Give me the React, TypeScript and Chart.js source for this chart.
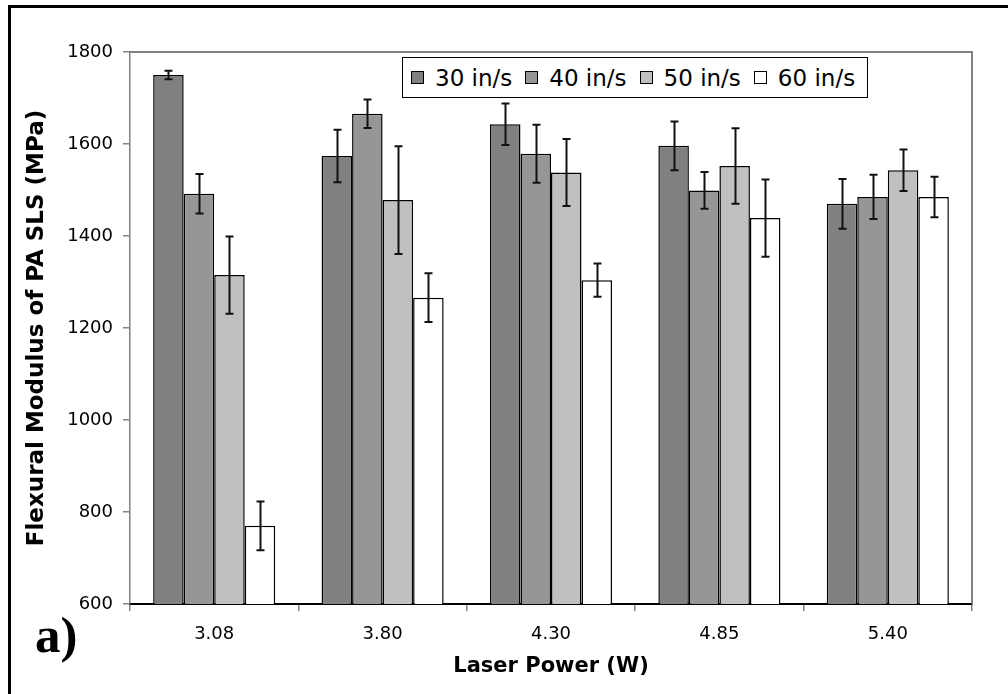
import React, { useEffect, useRef } from "react";
import { Chart, registerables } from "chart.js";

Chart.register(...registerables);

const categories = ["3.08", "3.80", "4.30", "4.85", "5.40"];
const seriesLabels = ["30 in/s", "40 in/s", "50 in/s", "60 in/s"];
const s30 = [1750, 1574, 1643, 1596, 1470];
const s40 = [1492, 1666, 1579, 1499, 1485];
const s50 = [1315, 1478, 1538, 1552, 1543];
const s60 = [770, 1266, 1304, 1439, 1485];
const e30 = [9, 57, 45, 53, 54];
const e40 = [43, 31, 63, 40, 48];
const e50 = [84, 117, 73, 82, 45];
const e60 = [53, 53, 36, 84, 44];
const yTicks = [600, 800, 1000, 1200, 1400, 1600, 1800];
const fills = ["#808080", "#969696", "#c0c0c0", "#ffffff"];

const values = [s30, s40, s50, s60];
const errors = [e30, e40, e50, e60];

const FONT = "'DejaVu Sans', 'Liberation Sans', Arial, sans-serif";

const errorBarPlugin = {
  id: "errorBars",
  afterDatasetsDraw(chart: any) {
    const ctx = chart.ctx;
    const yScale = chart.scales.y;
    ctx.save();
    ctx.strokeStyle = "#111";
    ctx.lineWidth = 2;
    chart.data.datasets.forEach((ds: any, di: number) => {
      const meta = chart.getDatasetMeta(di);
      meta.data.forEach((el: any, i: number) => {
        const v = ds.data[i];
        const e = errors[di][i];
        const x = Math.round(el.x) + 0.5;
        const yTop = yScale.getPixelForValue(v + e);
        const yBot = yScale.getPixelForValue(v - e);
        ctx.beginPath();
        ctx.moveTo(x, yTop);
        ctx.lineTo(x, yBot);
        ctx.moveTo(x - 4, yTop);
        ctx.lineTo(x + 4, yTop);
        ctx.moveTo(x - 4, yBot);
        ctx.lineTo(x + 4, yBot);
        ctx.stroke();
      });
    });
    ctx.restore();
  },
};

const plotBorderPlugin = {
  id: "plotBorder",
  afterDraw(chart: any) {
    const { ctx, chartArea } = chart;
    ctx.save();
    ctx.strokeStyle = "#808080";
    ctx.lineWidth = 2;
    ctx.beginPath();
    ctx.moveTo(chartArea.left, chartArea.top);
    ctx.lineTo(chartArea.right, chartArea.top);
    ctx.lineTo(chartArea.right, chartArea.bottom);
    ctx.stroke();
    ctx.restore();
  },
};

export default function App() {
  const ref = useRef<HTMLCanvasElement | null>(null);

  useEffect(() => {
    document.body.style.margin = "0";
    if (!ref.current) return;
    const chart = new Chart(ref.current, {
      type: "bar",
      data: {
        labels: categories,
        datasets: values.map((vals, i) => ({
          label: seriesLabels[i],
          data: vals,
          backgroundColor: fills[i],
          borderColor: "#000",
          borderWidth: 1.5,
          categoryPercentage: 0.725,
          barPercentage: 1.0,
        })),
      },
      options: {
        animation: false,
        responsive: false,
        maintainAspectRatio: false,
        layout: { padding: { top: 52, right: 36, bottom: 0, left: 0 } },
        plugins: {
          legend: { display: false },
          tooltip: { enabled: false },
        },
        scales: {
          x: {
            afterFit: (s: any) => {
              s.height = 90;
            },
            grid: {
              display: true,
              offset: true,
              drawOnChartArea: false,
              drawTicks: true,
              tickLength: 7,
              color: "#808080",
              lineWidth: 1.5,
            },
            border: { display: true, color: "#000", width: 2 },
            ticks: {
              color: "#000",
              font: { family: FONT, size: 18 },
              padding: 13,
            },
            title: {
              display: true,
              text: "Laser Power (W)",
              color: "#000",
              font: { family: FONT, size: 21, weight: "bold" },
              padding: { top: 0, bottom: 15 },
            },
          },
          y: {
            min: 600,
            max: 1800,
            afterFit: (s: any) => {
              s.width = 130;
            },
            afterBuildTicks: (s: any) => {
              s.ticks = yTicks.map((v) => ({ value: v }));
            },
            grid: {
              display: true,
              drawOnChartArea: false,
              drawTicks: true,
              tickLength: 7,
              color: "#808080",
              lineWidth: 1.5,
            },
            border: { display: true, color: "#808080", width: 1.5 },
            ticks: {
              color: "#000",
              font: { family: FONT, size: 18 },
              padding: 10,
              callback: (v: any) => String(v),
            },
            title: {
              display: true,
              text: "Flexural Modulus of PA SLS (MPa)",
              color: "#000",
              font: { family: FONT, size: 23, weight: "bold" },
              padding: { top: 23, bottom: 0 },
            },
          },
        },
      },
      plugins: [errorBarPlugin, plotBorderPlugin],
    });
    return () => chart.destroy();
  }, []);

  return (
    <div style={{ position: "absolute", left: 0, top: 0, width: 1008, height: 694, background: "#fff" }}>
      <div
        style={{
          position: "absolute",
          left: 8,
          top: 5,
          width: 1000,
          height: 689,
          borderLeft: "3px solid #000",
          borderTop: "3px solid #000",
          boxSizing: "border-box",
        }}
      />
      <canvas ref={ref} width={1008} height={694} style={{ position: "absolute", left: 0, top: 0, width: 1008, height: 694 }} />
      <div
        style={{
          position: "absolute",
          left: 402,
          top: 57,
          width: 466,
          height: 41,
          border: "1px solid #000",
          background: "#fff",
          boxSizing: "border-box",
          display: "flex",
          alignItems: "center",
          paddingLeft: 8,
          fontFamily: FONT,
          fontSize: 23,
          color: "#000",
          whiteSpace: "nowrap",
        }}
      >
        {seriesLabels.map((lab, i) => (
          <div key={lab} style={{ display: "flex", alignItems: "center", marginRight: 13 }}>
            <span
              style={{
                display: "inline-block",
                width: 13,
                height: 13,
                background: fills[i],
                border: "1px solid #000",
                boxSizing: "border-box",
                marginRight: 11,
              }}
            />
            <span>{lab}</span>
          </div>
        ))}
      </div>
      <div
        style={{
          position: "absolute",
          left: 35,
          top: 610,
          fontFamily: "'Liberation Serif', 'Times New Roman', serif",
          fontWeight: "bold",
          fontSize: 51,
          lineHeight: "51px",
          color: "#000",
        }}
      >
        a)
      </div>
    </div>
  );
}
